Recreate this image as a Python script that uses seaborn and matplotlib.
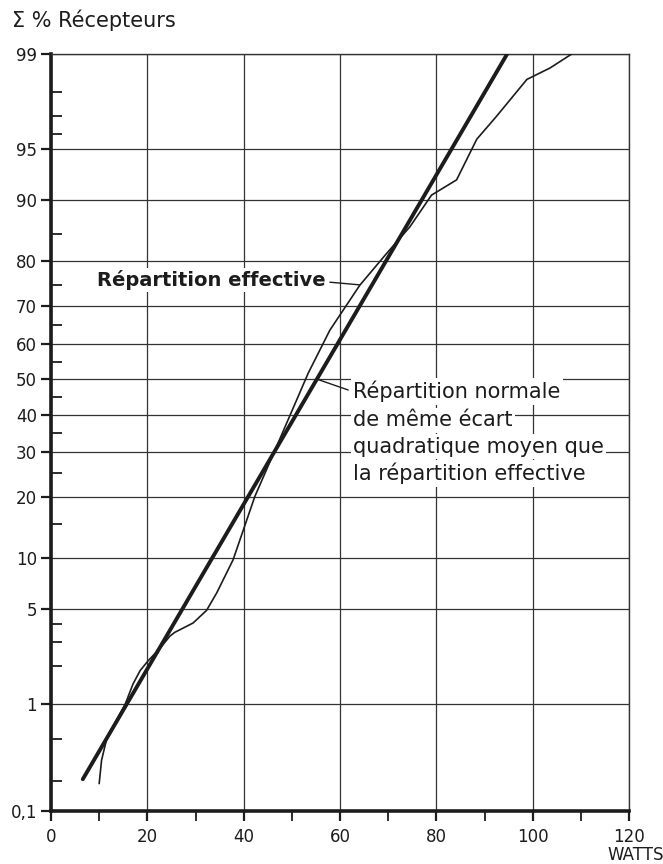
import numpy as np
import pandas as pd
import matplotlib
matplotlib.use("Agg")
import matplotlib.pyplot as plt
import seaborn as sns
from statistics import NormalDist

# ---------------- data ----------------
# Normal distribution (straight line on probability paper): end points
normal_watts = [6.6, 94.7]
normal_pct = [0.21, 99.0]

# Effective (measured) cumulative distribution
eff_watts = [10.0, 10.5, 11.5, 12.2, 15.4, 17.0, 18.5, 20.2, 22.6, 24.7, 25.7, 29.5, 32.3,
             34.4, 37.8, 42.3, 46.8, 53.4, 57.9, 64.1, 69.7, 74.5, 79.0, 84.2, 88.4,
             92.5, 98.8, 103.6, 108.8]
eff_pct = [0.19, 0.32, 0.49, 0.57, 1.0, 1.45, 1.85, 2.2, 2.7, 3.3, 3.5, 4.05, 4.9,
           6.3, 9.8, 20.0, 31.4, 51.7, 63.7, 74.9, 81.6, 86.2, 90.6, 92.3, 95.7,
           97.0, 98.4, 98.7, 99.04]

y_major = [0.1, 1, 5, 10, 20, 30, 40, 50, 60, 70, 80, 90, 95, 99]
y_labels = ["0,1", "1", "5", "10", "20", "30", "40", "50", "60", "70", "80", "90", "95", "99"]
y_minor = [0.2, 0.5, 2, 3, 4, 15, 25, 35, 45, 55, 65, 75, 85, 96, 97, 98]
x_major = [0, 20, 40, 60, 80, 100, 120]
x_minor = [10, 30, 50, 70, 90, 110]

# ---------------- probability scale ----------------
_nd = NormalDist()
_ppf = np.vectorize(lambda q: _nd.inv_cdf(q) if np.isfinite(q) else np.nan, otypes=[float])
_cdf = np.vectorize(lambda z: _nd.cdf(z) if np.isfinite(z) else np.nan, otypes=[float])

def fwd(p):
    p = np.asarray(p, dtype=float)
    q = np.clip(p / 100.0, 1e-9, 1 - 1e-9)
    return _ppf(q)

def inv(z):
    z = np.asarray(z, dtype=float)
    return _cdf(z) * 100.0

sns.set_style("white")
plt.rcParams['font.family'] = ['DejaVu Sans']
ink = "#1c1c1c"

fig = plt.figure(figsize=(6.63, 8.64), dpi=100)
ax = fig.add_axes([51/663, 1 - 811/864, (629-51)/663, (811-54)/864])
ax.set_yscale("function", functions=(fwd, inv))
ax.set_xlim(0, 120)
ax.set_ylim(0.1, 99)

df_norm = pd.DataFrame({"watts": normal_watts, "pct": normal_pct})
df_eff = pd.DataFrame({"watts": eff_watts, "pct": eff_pct})
sns.lineplot(data=df_norm, x="watts", y="pct", ax=ax, color=ink, lw=2.8,
             sort=False, estimator=None, solid_capstyle="round", zorder=4)
sns.lineplot(data=df_eff, x="watts", y="pct", ax=ax, color=ink, lw=1.2,
             sort=False, estimator=None, zorder=4)

ax.set_yticks(y_major)
ax.set_yticklabels(y_labels)
ax.set_yticks(y_minor, minor=True)
ax.set_xticks(x_major)
ax.set_xticks(x_minor, minor=True)

ax.grid(True, which="major", color="#333333", lw=0.9, zorder=1)
ax.set_axisbelow(True)

ax.tick_params(axis="y", which="major", direction="out", length=7, width=1.6,
               colors=ink, labelsize=12, pad=3, left=True)
ax.tick_params(axis="y", which="minor", direction="in", length=8, width=1.3,
               colors=ink, left=True)
ax.tick_params(axis="x", which="major", direction="out", length=7, width=1.6,
               colors=ink, labelsize=12, pad=5, bottom=True)
ax.tick_params(axis="x", which="minor", direction="out", length=7, width=1.3,
               colors=ink, bottom=True)

for s in ["left", "bottom"]:
    ax.spines[s].set_linewidth(2.6)
    ax.spines[s].set_color(ink)
for s in ["top", "right"]:
    ax.spines[s].set_linewidth(1.0)
    ax.spines[s].set_color("#333333")

ax.set_xlabel("")
ax.set_ylabel("")

fig.text(12/663, 1 - 20/864, "Σ % Récepteurs", fontsize=15, color=ink,
         ha="left", va="center")
fig.text(607/663, 1 - 855/864, "WATTS", fontsize=12, color=ink,
         ha="left", va="center")

# annotations
bbox = dict(boxstyle="square,pad=0.12", fc="white", ec="none")
ax.text(9.5, 76.1, "Répartition effective", fontsize=14, color=ink,
        ha="left", va="center", bbox=bbox, zorder=3, fontweight="semibold")
ax.annotate("", xy=(64.1, 75.0), xytext=(57.9, 75.6),
            arrowprops=dict(arrowstyle="-", color=ink, lw=1.0, shrinkA=0, shrinkB=0),
            zorder=3)

lines = ["Répartition normale", "de même écart",
         "quadratique moyen que", "la répartition effective"]
ys = [0.554, 0.5165, 0.4812, 0.4461]
for t, yy in zip(lines, ys):
    ax.text(0.5225, yy, t, transform=ax.transAxes, fontsize=15, color=ink,
            ha="left", va="center", bbox=bbox, zorder=3)
ax.annotate("", xy=(55.2, 50.0), xytext=(61.7, 46.9),
            arrowprops=dict(arrowstyle="-", color=ink, lw=1.0, shrinkA=0, shrinkB=0),
            zorder=3)

fig.savefig("out.png", dpi=100, facecolor="white")
